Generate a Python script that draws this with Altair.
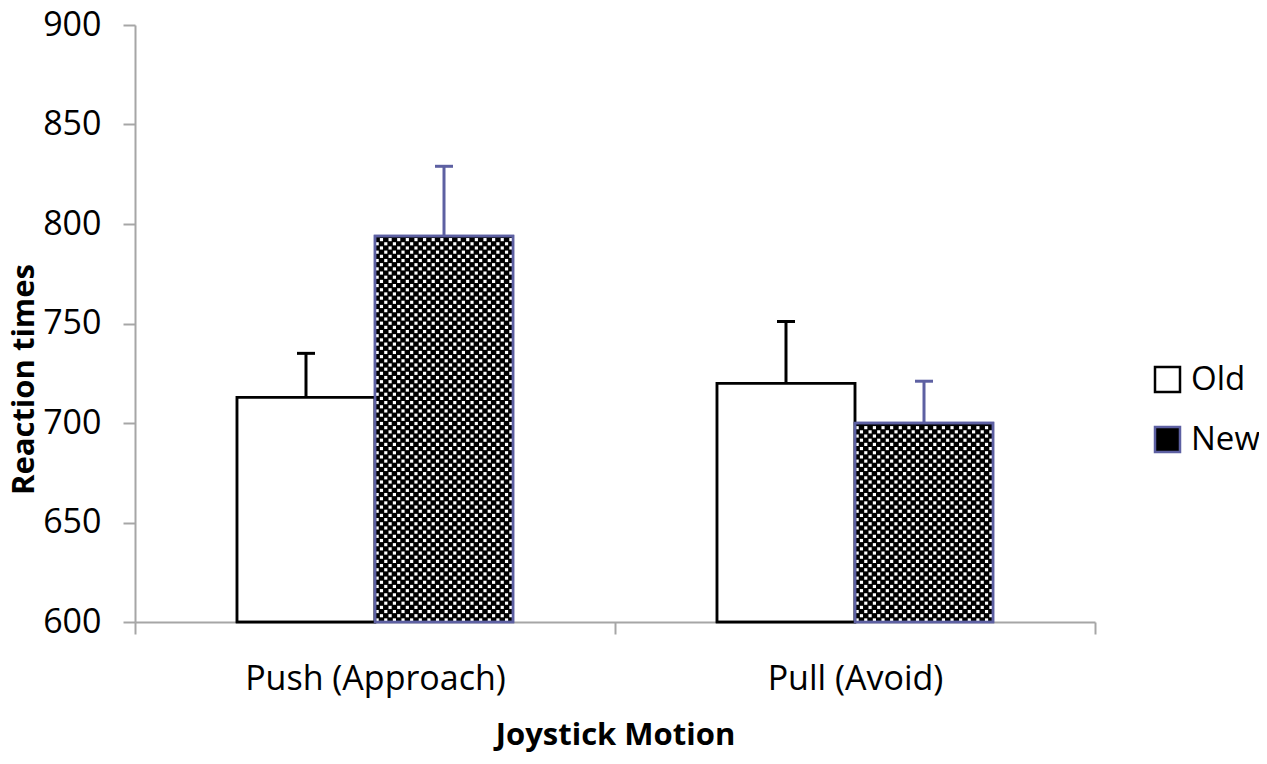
import altair as alt
import pandas as pd

categories = ["Push (Approach)", "Pull (Avoid)"]
groups = ["Old", "New"]
old_means = [713, 720]
new_means = [794, 700]
old_errors = [22, 31]
new_errors = [35, 21]

records = []
for i, c in enumerate(categories):
    records.append({"category": c, "group": "Old", "mean": old_means[i],
                    "upper": old_means[i] + old_errors[i]})
    records.append({"category": c, "group": "New", "mean": new_means[i],
                    "upper": new_means[i] + new_errors[i]})
df = pd.DataFrame(records)

PURPLE = "#5d60a2"
AXIS_GRAY = "#a6a6a6"
FONT = "Open Sans"
PAD_OUTER = 0.739
step = 1.0 / (2 + 2 * PAD_OUTER)
NEW_START = (PAD_OUTER + 1) * step
NEW_END = (PAD_OUTER + 2) * step
ROW = 2.1
NCOLS = 16

x_enc = alt.X("category:N", sort=categories, title="Joystick Motion",
              scale=alt.Scale(paddingInner=0, paddingOuter=0),
              axis=alt.Axis(labelAngle=0, tickBand="extent", labelPadding=28,
                            titlePadding=24, labelLimit=0))
xoff_enc = alt.XOffset("group:N", sort=groups,
                       scale=alt.Scale(type="band", domain=groups, paddingInner=0,
                                       paddingOuter=PAD_OUTER))
y_scale = alt.Scale(domain=[600, 900], nice=False, zero=False)
y_axis = alt.Axis(values=[600, 650, 700, 750, 800, 850, 900], labelPadding=22,
                  titlePadding=2, titleY=354)
fill_scale = alt.Scale(domain=groups, range=["white", "black"])
stroke_scale = alt.Scale(domain=groups, range=["black", PURPLE])

legend = alt.Legend(title=None, orient="none", legendX=1016, legendY=338,
                    symbolType="square", symbolSize=625, symbolStrokeWidth=2.5,
                    labelFont=FONT, labelFontSize=33, labelColor="black",
                    rowPadding=25, padding=0, labelOffset=7, labelLimit=0)

bars = alt.Chart(df).mark_bar(strokeWidth=2.5).encode(
    x=x_enc, xOffset=xoff_enc,
    y=alt.Y("mean:Q", scale=y_scale, axis=y_axis, title="Reaction times"),
    y2=alt.datum(600),
    fill=alt.Fill("group:N", scale=fill_scale, legend=legend),
    stroke=alt.Stroke("group:N", scale=stroke_scale, legend=legend),
)

dots = alt.Chart(df).transform_filter("datum.group == 'New'").transform_calculate(
    rows=f"sequence(0, floor((datum.mean - 600) / {ROW}))"
).transform_flatten(["rows"], as_=["row"]).transform_calculate(
    cols=f"sequence(0, {NCOLS})"
).transform_flatten(["cols"], as_=["col"]).transform_calculate(
    yv=f"600 + (datum.row + 0.5) * {ROW}",
    xf=f"{NEW_START} + ((datum.col + 0.25 + (datum.row % 2) * 0.5) / {NCOLS}) * {NEW_END - NEW_START}",
).mark_square(size=10, color="white", opacity=1).encode(
    x=x_enc,
    xOffset=alt.XOffset("xf:Q", scale=alt.Scale(domain=[0, 1], nice=False, zero=False)),
    y=alt.Y("yv:Q", title="Reaction times"),
)

outline = alt.Chart(df).mark_bar(strokeWidth=2.5, fillOpacity=0).encode(
    x=x_enc, xOffset=xoff_enc,
    y=alt.Y("mean:Q", title="Reaction times"),
    y2=alt.datum(600),
    stroke=alt.Stroke("group:N", scale=stroke_scale, legend=None),
)

err = alt.Chart(df).mark_rule(strokeWidth=3).encode(
    x=x_enc, xOffset=xoff_enc,
    y=alt.Y("mean:Q", title="Reaction times"),
    y2="upper:Q",
    stroke=alt.Stroke("group:N", scale=stroke_scale, legend=None),
)

caps = alt.Chart(df).mark_point(shape="M-1,0L1,0", size=324, filled=False,
                                strokeWidth=3, opacity=1).encode(
    x=x_enc, xOffset=xoff_enc,
    y=alt.Y("upper:Q", title="Reaction times"),
    stroke=alt.Stroke("group:N", scale=stroke_scale, legend=None),
)

chart = alt.layer(bars, dots, outline, err, caps).resolve_scale(
    xOffset="independent"
).properties(
    width=960, height=597,
    autosize=alt.AutoSizeParams(type="none"),
    padding={"left": 127, "top": 17, "right": 164, "bottom": 134},
).configure_view(stroke=None).configure_axis(
    grid=False, domainColor=AXIS_GRAY, domainWidth=2, tickColor=AXIS_GRAY,
    tickWidth=2, tickSize=12, labelFont=FONT, labelFontSize=34, labelColor="black",
    titleFont=FONT, titleFontSize=31, titleFontWeight="bold", titleColor="black",
)

chart.save("out.html", embed_options={"renderer": "svg", "actions": False})
